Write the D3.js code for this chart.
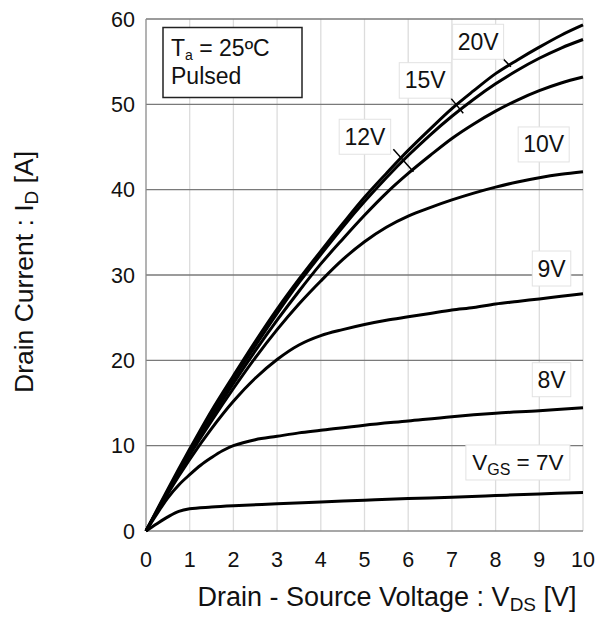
<!DOCTYPE html>
<html><head><meta charset="utf-8">
<script src="https://cdn.jsdelivr.net/npm/d3@7/dist/d3.min.js"></script>
<style>body{margin:0;background:#fff;} svg{display:block;}</style>
</head><body>
<svg id="c" width="603" height="617"></svg>
<script>
// Data (VDS in V, ID in A)
const vds20 = [0,0.5,1,1.5,2,2.5,3,3.5,4,4.5,5,5.5,6,6.5,7,7.5,8,8.5,9,9.5,10];
const id20  = [0,4.9,9.6,14.1,18.2,22.2,26.0,29.5,32.8,36.0,39.1,41.9,44.6,47.1,49.5,51.6,53.6,55.2,56.7,58.1,59.3];
const id15  = [0,4.7,9.3,13.6,17.8,21.7,25.5,29.1,32.4,35.6,38.6,41.4,44.0,46.4,48.6,50.6,52.4,54.0,55.4,56.6,57.6];
const id12  = [0,4.6,9.1,13.3,17.3,21.1,24.7,28.1,31.3,34.2,37.0,39.6,41.9,44.0,46.0,47.7,49.2,50.5,51.6,52.5,53.2];
const id10  = [0,4.5,8.9,12.9,16.7,20.3,23.6,26.6,29.3,31.8,33.9,35.6,36.9,37.9,38.8,39.6,40.3,40.9,41.4,41.8,42.1];
const id9   = [0,4.4,8.4,12.0,15.2,17.9,20.1,21.8,22.9,23.6,24.2,24.7,25.1,25.5,25.9,26.2,26.6,26.9,27.2,27.5,27.8];
const vds8  = [0,0.25,0.5,0.75,1,1.25,1.5,1.75,2,2.5,3,3.5,4,5,6,7,8,9,10];
const id8   = [0,2.0,3.9,5.4,6.6,7.7,8.6,9.4,10.0,10.7,11.1,11.5,11.8,12.4,12.9,13.4,13.8,14.1,14.45];
const vds7  = [0,0.25,0.5,0.75,1,1.5,2,3,4,5,6,7,8,9,10];
const id7   = [0,0.85,1.65,2.3,2.6,2.8,2.95,3.2,3.4,3.6,3.8,3.95,4.15,4.35,4.5];
const xTicks = [0,1,2,3,4,5,6,7,8,9,10];
const yTicks = [0,10,20,30,40,50,60];

const series = [
  {name:"20V", x:vds20, y:id20},
  {name:"15V", x:vds20, y:id15},
  {name:"12V", x:vds20, y:id12},
  {name:"10V", x:vds20, y:id10},
  {name:"9V",  x:vds20, y:id9},
  {name:"8V",  x:vds8,  y:id8},
  {name:"7V",  x:vds7,  y:id7}
];

const svg = d3.select("#c");
const L=146, R=583, T=19, B=531;
const x = d3.scaleLinear().domain([0,10]).range([L,R]);
const y = d3.scaleLinear().domain([0,60]).range([B,T]);
const font = "'Liberation Sans', Arial, sans-serif";

// vertical grid
svg.append("g").selectAll("line").data(xTicks.slice(1)).join("line")
  .attr("x1",d=>x(d)).attr("x2",d=>x(d)).attr("y1",T).attr("y2",B)
  .attr("stroke","#dcdcdc").attr("stroke-width",1.3);
// horizontal grid
svg.append("g").selectAll("line").data(yTicks.slice(1)).join("line")
  .attr("x1",L).attr("x2",R).attr("y1",d=>y(d)).attr("y2",d=>y(d))
  .attr("stroke","#7a7a7a").attr("stroke-width",1.3);
// left and bottom axis
svg.append("line").attr("x1",L).attr("x2",L).attr("y1",T).attr("y2",B).attr("stroke","#8a8a8a").attr("stroke-width",1.3);
svg.append("line").attr("x1",L).attr("x2",R).attr("y1",B).attr("y2",B).attr("stroke","#8a8a8a").attr("stroke-width",1.3);

// tick labels
svg.append("g").selectAll("text").data(xTicks).join("text")
  .attr("x",d=>x(d)).attr("y",567).attr("text-anchor","middle")
  .attr("font-family",font).attr("font-size",21.5).attr("fill","#111").text(d=>d);
svg.append("g").selectAll("text").data(yTicks).join("text")
  .attr("x",L-11).attr("y",d=>y(d)+7.5).attr("text-anchor","end")
  .attr("font-family",font).attr("font-size",21.5).attr("fill","#111").text(d=>d);

// axis titles
const xt = svg.append("text").attr("x",387).attr("y",606).attr("text-anchor","middle")
  .attr("font-family",font).attr("font-size",27).attr("fill","#111");
xt.append("tspan").text("Drain - Source Voltage : V");
xt.append("tspan").attr("font-size",19).attr("dy",5).text("DS");
xt.append("tspan").attr("dy",-5).text(" [V]");

const yt = svg.append("text").attr("transform","translate(33,272) rotate(-90)").attr("text-anchor","middle")
  .attr("font-family",font).attr("font-size",26.5).attr("fill","#111");
yt.append("tspan").text("Drain Current : I");
yt.append("tspan").attr("font-size",19).attr("dy",5).text("D");
yt.append("tspan").attr("dy",-5).text(" [A]");

// curves
const line = d3.line().x(d=>x(d[0])).y(d=>y(d[1])).curve(d3.curveCatmullRom.alpha(0.5));
svg.append("g").selectAll("path").data(series).join("path")
  .attr("d",s=>line(s.x.map((v,i)=>[v,s.y[i]])))
  .attr("fill","none").attr("stroke","#000").attr("stroke-width",3);

// leader lines (in data coordinates)
const leaders = [
  [8.16,55.4,8.35,54.4],
  [6.98,50.7,7.26,48.95],
  [5.66,44.73,6.12,42.1]
];
svg.append("g").selectAll("line").data(leaders).join("line")
  .attr("x1",d=>x(d[0])).attr("y1",d=>y(d[1])).attr("x2",d=>x(d[2])).attr("y2",d=>y(d[3]))
  .attr("stroke","#000").attr("stroke-width",1.5);

// labels: center in data coords, box size in px
const labels = [
  {t:"20V", cx:7.60, cy:57.33, w:51, h:35},
  {t:"15V", cx:6.39, cy:52.8, w:52, h:35.5},
  {t:"12V", cx:5.01, cy:46.2, w:51.5, h:35},
  {t:"10V", cx:9.10, cy:45.3, w:51, h:35},
  {t:"9V",  cx:9.28, cy:30.76, w:38.5, h:35},
  {t:"8V",  cx:9.28, cy:17.73, w:38.5, h:34},
  {t:"7V",  cx:8.51, cy:8.03, w:104, h:35, vgs:true}
];
const lg = svg.append("g").selectAll("g").data(labels).join("g");
lg.append("rect").attr("x",d=>x(d.cx)-d.w/2).attr("y",d=>y(d.cy)-d.h/2)
  .attr("width",d=>d.w).attr("height",d=>d.h).attr("fill","#fff").attr("stroke","#e2e2e2").attr("stroke-width",1);
lg.each(function(d){
  const t = d3.select(this).append("text").attr("x",x(d.cx)).attr("y",y(d.cy)+8)
    .attr("text-anchor","middle").attr("font-family",font).attr("font-size",23).attr("fill","#111");
  if(d.vgs){
    t.attr("font-size",22.5);
    t.append("tspan").text("V");
    t.append("tspan").attr("font-size",16).attr("dy",5).text("GS");
    t.append("tspan").attr("dy",-5).text(" = "+d.t);
  } else t.text(d.t);
});

// info box
svg.append("rect").attr("x",163).attr("y",27.5).attr("width",139).attr("height",70)
  .attr("fill","#fff").attr("stroke","#222").attr("stroke-width",1.5);
const it = svg.append("text").attr("x",171).attr("y",56).attr("font-family",font).attr("font-size",23).attr("fill","#111");
it.append("tspan").text("T");
it.append("tspan").attr("font-size",14).attr("dy",4).text("a");
it.append("tspan").attr("dy",-4).text(" = 25ºC");
svg.append("text").attr("x",171).attr("y",84).attr("font-family",font).attr("font-size",23).attr("fill","#111").text("Pulsed");
</script>
</body></html>
